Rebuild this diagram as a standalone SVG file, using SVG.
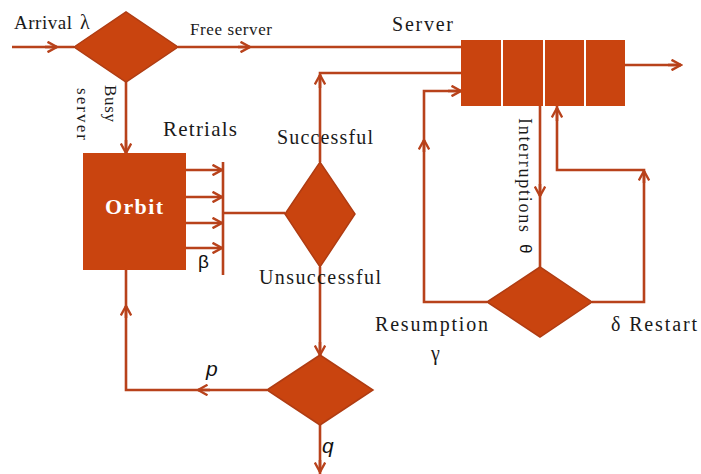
<svg xmlns="http://www.w3.org/2000/svg" width="701" height="474" viewBox="0 0 701 474">
<style>
.ln{fill:none;stroke:#B8421B;stroke-width:2.6;stroke-linejoin:miter}
.ar{fill:none;stroke:#B8421B;stroke-width:2.6;marker-end:url(#ah)}
.sh{fill:#C9440F;stroke:#B03C12;stroke-width:1.5}
.cell{fill:#C9440F}
.t{font-family:"Liberation Serif",serif;fill:#1a1a1a}
.s{font-family:"Liberation Sans",sans-serif;fill:#111}
</style>
<defs>
<marker id="ah" viewBox="0 0 12 12" refX="10.5" refY="6" markerWidth="12" markerHeight="12" markerUnits="userSpaceOnUse" orient="auto">
<path d="M1,0.8 L10.5,6 L1,11.2" fill="none" stroke="#B8421B" stroke-width="2.4"/>
</marker>
</defs>
<rect width="701" height="474" fill="#fff"/>
<g id="connectors">
<path class="ln" d="M12,47 H74"/><path class="ar" d="M45,47 H57"/>
<path class="ln" d="M178,47 H461"/><path class="ar" d="M238,47 H250"/>
<path class="ln" d="M126,82 V153"/><path class="ar" d="M126,140 V153"/>
<path class="ln" d="M223,162 V275"/>
<path class="ar" d="M186,170 H222"/>
<path class="ar" d="M178,197 H222"/>
<path class="ar" d="M186,223 H222"/>
<path class="ar" d="M186,248 H222"/>
<path class="ln" d="M223,213 H285"/>
<path class="ln" d="M320,162 V73 H461"/><path class="ar" d="M320,88 V75"/>
<path class="ln" d="M487,302 H424 V91 H461"/><path class="ar" d="M424,152 V140"/><path class="ar" d="M448,91 H461"/>
<path class="ln" d="M625,65 H681"/><path class="ar" d="M668,65 H681"/>
<path class="ln" d="M540,106 V267"/><path class="ar" d="M540,184 V196"/>
<path class="ln" d="M592,302 H644 V170 H557 V106"/><path class="ar" d="M644,183 V171"/><path class="ar" d="M557,121 V108"/>
<path class="ln" d="M320,267 V355"/><path class="ar" d="M320,342 V355"/>
<path class="ln" d="M267,390 H126 V270"/><path class="ar" d="M210,390 H198"/><path class="ar" d="M126,318 V306"/>
<path class="ln" d="M320,425 V474"/><path class="ar" d="M320,460 V472"/>
</g>
<g id="arrivalDecision">
<polygon class="sh" points="74,47 126,12 178,47 126,82"/>
</g>
<g id="server">
<rect class="cell" x="461" y="40" width="40" height="66"/>
<rect class="cell" x="503" y="40" width="40" height="66"/>
<rect class="cell" x="545" y="40" width="39" height="66"/>
<rect class="cell" x="586" y="40" width="39" height="66"/>
</g>
<g id="orbit">
<rect class="cell" x="83" y="153" width="103" height="117"/>
<text x="134" y="214" text-anchor="middle" font-family="Liberation Serif, serif" font-weight="bold" font-size="22" fill="#fff" textLength="58">Orbit</text>
</g>
<g id="retrialDecision">
<polygon class="sh" points="285,214 320,162 355,214 320,267"/>
</g>
<g id="interruptDecision">
<polygon class="sh" points="487,302 540,267 592,302 540,337"/>
</g>
<g id="feedbackDecision">
<polygon class="sh" points="267,390 320,355 373,390 320,425"/>
</g>
<g id="labels">
<text class="t" x="14" y="29" font-size="19" textLength="58">Arrival</text>
<text class="t" x="80" y="29" font-size="20">λ</text>
<text class="t" x="190" y="35" font-size="17" textLength="82">Free server</text>
<text class="t" x="392" y="31" font-size="20" textLength="61">Server</text>
<text class="t" transform="translate(105,85) rotate(90)" font-size="17" textLength="37">Busy</text>
<text class="t" transform="translate(77,88) rotate(90)" font-size="17" textLength="52">server</text>
<text class="t" x="163" y="136" font-size="21" textLength="74">Retrials</text>
<text class="t" x="277" y="144" font-size="20" textLength="96">Successful</text>
<text class="t" x="259" y="284" font-size="20" textLength="122">Unsuccessful</text>
<text class="s" x="198" y="268" font-size="19">β</text>
<text class="t" transform="translate(519,118) rotate(90)" font-size="18" textLength="114">Interruptions</text>
<text class="s" transform="translate(520,244) rotate(90)" font-size="17">θ</text>
<text class="t" x="375" y="331" font-size="20" textLength="113">Resumption</text>
<text class="t" x="431" y="360" font-size="20">γ</text>
<text class="t" x="611" y="331" font-size="20" textLength="86">δ Restart</text>
<text class="s" x="206" y="376" font-size="21" font-style="italic">p</text>
<text class="s" x="322" y="453" font-size="21" font-style="italic">q</text>
</g>
</svg>
